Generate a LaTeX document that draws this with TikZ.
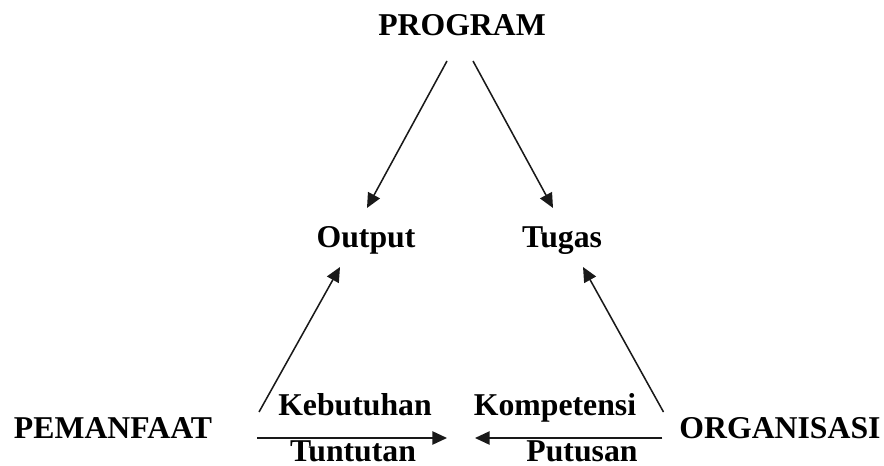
\documentclass[tikz,border=0pt]{standalone}
\usepackage{fontspec}
\setmainfont{Liberation Serif}
\usetikzlibrary{arrows.meta,positioning}
\tikzset{>={Triangle[length=11pt,width=10pt]},every node/.style={font=\fontsize{23.8}{28}\selectfont\bfseries},
 lbl/.style={inner sep=0pt,outer sep=0pt,anchor=base,text height=15.75pt,text depth=0pt},
 panah/.style={draw=black!90,line width=1.15pt,->}}
\begin{document}
\begin{tikzpicture}[x=0.75pt,y=-0.75pt]
\useasboundingbox (0,0) rectangle (884,466);
\node[lbl] (program) at (462,36) {PROGRAM};
\node[lbl] (output) at (366,248) {Output};
\node[lbl] (tugas) at (562,248) {Tugas};
\node[lbl] (pemanfaat) at (113,438) {PEMANFAAT};
\node[lbl] (organisasi) at (780,438) {ORGANISASI};
\node[lbl] (kebutuhan) at (355,415) {Kebutuhan};
\node[lbl] (kompetensi) at (555,415) {Kompetensi};
\node[lbl] (tuntutan) at (353,461) {Tuntutan};
\node[lbl] (putusan) at (582,461) {Putusan};
\coordinate (tengah) at (461,438);
\draw[panah] ([xshift=-11.25pt,yshift=-18.75pt]program.south)--([xshift=0.75pt,yshift=14.25pt]output.north);
\draw[panah] ([xshift=8.25pt,yshift=-18.75pt]program.south)--([xshift=-6.75pt,yshift=14.25pt]tugas.north);
\draw[panah] ([xshift=35.25pt,yshift=19.5pt]pemanfaat.base east)--([xshift=-19.5pt,yshift=-14.25pt]output.south);
\draw[panah] ([xshift=-12pt,yshift=19.5pt]organisasi.base west)--([xshift=15.75pt,yshift=-14.25pt]tugas.south);
\draw[panah,shorten >=10.5pt] ([xshift=33.75pt]pemanfaat.base east)--(tengah);
\draw[panah,shorten >=10.5pt] ([xshift=-12.75pt]organisasi.base west)--(tengah);
\end{tikzpicture}
\end{document}
